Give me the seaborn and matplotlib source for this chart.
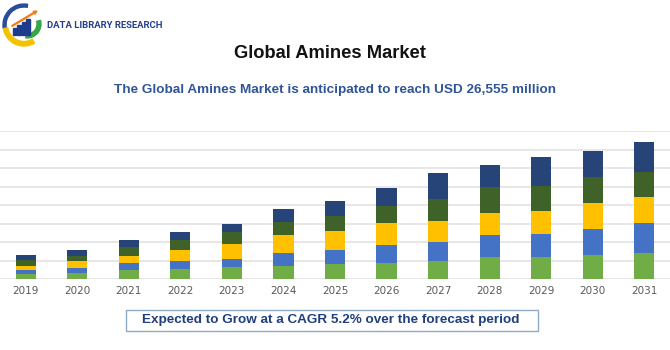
import pandas as pd
import seaborn as sns
import matplotlib.pyplot as plt
from matplotlib.patches import Wedge, Rectangle, FancyArrow

# Dados (valores estimados em milhões de USD)
years = ['2019', '2020', '2021', '2022', '2023', '2024', '2025',
         '2026', '2027', '2028', '2029', '2030', '2031']
seg_light_green = [945, 1134, 1814, 2003, 2325, 2514, 2892, 3137, 3515, 4158, 4271, 4593, 4971]
seg_blue = [813, 945, 1266, 1455, 1512, 2400, 2703, 3345, 3478, 4158, 4234, 4914, 5613]
seg_gold = [756, 1380, 1380, 2079, 2892, 3402, 3534, 4215, 4026, 4215, 4404, 4914, 4914]
seg_dark_green = [1077, 1002, 1701, 1890, 2268, 2514, 2835, 3156, 4101, 4857, 4782, 4914, 4838]
seg_navy = [1002, 1077, 1266, 1569, 1512, 2400, 2778, 3345, 4971, 4215, 5481, 4971, 5557]

segments = [seg_light_green, seg_blue, seg_gold, seg_dark_green, seg_navy]
seg_colors = ['#70AD47', '#4472C4', '#FFC000', '#3F6229', '#264478']

df = pd.DataFrame({'year': years})
cum = [0] * len(years)
for i, seg in enumerate(segments):
    cum = [c + v for c, v in zip(cum, seg)]
    df[f'cum{i}'] = cum

sns.set_style('white')
fig = plt.figure(figsize=(6.7, 3.5), dpi=100)
ax = fig.add_axes([0, 70.7 / 350, 1, 148.3 / 350])

# Barras empilhadas: desenha do total para baixo
for i in reversed(range(len(segments))):
    sns.barplot(data=df, x='year', y=f'cum{i}', color=seg_colors[i],
                width=0.39, saturation=1, linewidth=0, ax=ax, zorder=3)

ax.set_ylim(0, 28000)
ax.set_xlim(-0.5, 12.5)
ax.set_yticks(range(0, 28001, 3500))
ax.set_yticklabels([])
ax.yaxis.grid(True, color='#E3E3E3', linewidth=1.2, zorder=0)
ax.set_axisbelow(True)
ax.set_xlabel('')
ax.set_ylabel('')
ax.tick_params(axis='x', length=0, pad=5, labelsize=7.5, labelcolor='#595959')
ax.tick_params(axis='y', length=0)
for s in ax.spines.values():
    s.set_visible(False)

# Títulos
fig.text(0.492, 1 - 54 / 350, 'Global Amines Market', ha='center', va='center',
         fontsize=13.2, fontweight='bold', color='#111111', family='Liberation Sans')
fig.text(0.5, 1 - 89.5 / 350,
         'The Global Amines Market is anticipated to reach USD 26,555 million',
         ha='center', va='center', fontsize=9.7, fontweight='bold',
         color='#2F5597', family='Liberation Sans')

# Caixa inferior
fig.patches.append(Rectangle((126 / 670, 1 - 331 / 350), 412 / 670, 21 / 350,
                             transform=fig.transFigure, facecolor='white',
                             edgecolor='#8FAAC4', linewidth=1))
fig.text(331 / 670, 1 - 320.5 / 350,
         'Expected to Grow at a CAGR 5.2% over the forecast period',
         ha='center', va='center', fontsize=9.7, fontweight='bold',
         color='#203F7E', family='Liberation Sans')

# Logo
lax = fig.add_axes([0, 1 - 50 / 350, 50 / 670, 50 / 350])
lax.set_xlim(0, 50)
lax.set_ylim(0, 50)
lax.axis('off')
lax.add_patch(Wedge((24, 25), 21, 80, 190, width=3, color='#2A4C9A'))
lax.add_patch(Wedge((24, 25), 21, 190, 300, width=4.5, color='#F2C400'))
lax.add_patch(Wedge((27, 26), 14, 265, 15, width=4, color='#38A548'))
for bx, bh in [(13, 7), (17.5, 10), (22, 13), (26.5, 16)]:
    lax.add_patch(Rectangle((bx, 15), 3.2, bh, color='#1E3C8C'))
lax.add_patch(FancyArrow(12, 24, 25, 15, width=0.9, head_width=3.5, head_length=3.5,
                         color='#F07F1E', length_includes_head=True))
fig.text(47 / 670, 1 - 25 / 350, 'DATA LIBRARY RESEARCH', ha='left', va='center',
         fontsize=6.8, fontweight='bold', color='#263D8C', family='Roboto')

fig.savefig('out.png', dpi=100)
